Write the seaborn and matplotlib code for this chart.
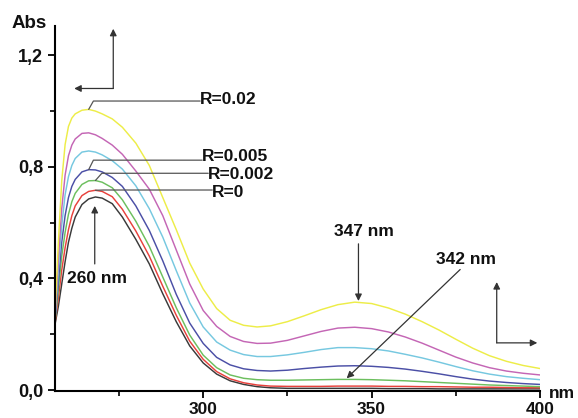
import numpy as np
import pandas as pd
import matplotlib
matplotlib.use("Agg")
import matplotlib.pyplot as plt
import seaborn as sns
from matplotlib.ticker import FixedLocator, FuncFormatter

# Wavelength grid (nm)
wavelength = [256, 257, 258, 259, 260, 261, 262, 264, 266, 268, 270, 273, 276, 280, 284,
              288, 292, 296, 300, 304, 308, 312, 316, 320, 325, 330, 335, 340, 345,
              350, 355, 360, 365, 370, 375, 380, 385, 390, 395, 400]

# Absorbance of each spectrum
abs_black = [0.235, 0.30, 0.38, 0.46, 0.53, 0.58, 0.62, 0.665, 0.685, 0.692, 0.688, 0.668, 0.62,
             0.54, 0.452, 0.345, 0.245, 0.158, 0.097, 0.057, 0.033, 0.02, 0.012, 0.008,
             0.006, 0.006, 0.006, 0.006, 0.006, 0.006, 0.005, 0.005, 0.005, 0.004, 0.004,
             0.004, 0.004, 0.004, 0.004, 0.004]
abs_r0 = [0.24, 0.33, 0.43, 0.51, 0.575, 0.625, 0.66, 0.697, 0.712, 0.716, 0.712, 0.693, 0.648,
          0.57, 0.48, 0.372, 0.268, 0.175, 0.11, 0.066, 0.04, 0.026, 0.018, 0.014,
          0.013, 0.013, 0.013, 0.014, 0.014, 0.014, 0.013, 0.013, 0.012, 0.012, 0.011,
          0.01, 0.01, 0.009, 0.008, 0.008]
abs_r0002 = [0.245, 0.36, 0.48, 0.565, 0.63, 0.675, 0.705, 0.737, 0.75, 0.751, 0.745, 0.725, 0.682,
             0.605, 0.515, 0.405, 0.295, 0.197, 0.125, 0.08, 0.054, 0.042, 0.037, 0.035,
             0.035, 0.036, 0.037, 0.038, 0.038, 0.037, 0.035, 0.033, 0.03, 0.027, 0.024,
             0.021, 0.018, 0.016, 0.014, 0.012]
abs_r0005 = [0.25, 0.39, 0.53, 0.625, 0.69, 0.73, 0.755, 0.782, 0.79, 0.789, 0.782, 0.762, 0.73,
             0.66, 0.572, 0.463, 0.343, 0.24, 0.167, 0.117, 0.09, 0.076, 0.07, 0.068,
             0.071, 0.077, 0.082, 0.086, 0.087, 0.085, 0.081, 0.075, 0.067, 0.058, 0.048,
             0.039, 0.032, 0.027, 0.023, 0.02]
abs_cyan = [0.255, 0.43, 0.59, 0.70, 0.765, 0.805, 0.83, 0.853, 0.857, 0.853, 0.843, 0.822, 0.792,
            0.732, 0.65, 0.548, 0.428, 0.312, 0.226, 0.172, 0.143, 0.127, 0.12, 0.12,
            0.126, 0.135, 0.145, 0.152, 0.152, 0.148, 0.14, 0.128, 0.115, 0.1, 0.084,
            0.069, 0.057, 0.048, 0.042, 0.037]
abs_magenta = [0.26, 0.47, 0.65, 0.77, 0.84, 0.878, 0.90, 0.92, 0.922, 0.915, 0.902, 0.878, 0.845,
               0.785, 0.72, 0.625, 0.502, 0.38, 0.285, 0.228, 0.192, 0.174, 0.167, 0.168,
               0.178, 0.194, 0.21, 0.222, 0.225, 0.22, 0.208, 0.19, 0.168, 0.143, 0.118,
               0.097, 0.08, 0.068, 0.06, 0.054]
abs_r002 = [0.27, 0.53, 0.75, 0.88, 0.945, 0.975, 0.99, 1.003, 1.006, 1.0, 0.99, 0.972, 0.942,
            0.885, 0.805, 0.69, 0.575, 0.455, 0.362, 0.292, 0.25, 0.232, 0.226, 0.23,
            0.245, 0.266, 0.288, 0.306, 0.315, 0.31, 0.294, 0.272, 0.245, 0.215, 0.182,
            0.15, 0.123, 0.103, 0.088, 0.077]

series_names = ["black", "R=0", "R=0.002", "R=0.005", "cyan", "magenta", "R=0.02"]
series_values = [abs_black, abs_r0, abs_r0002, abs_r0005, abs_cyan, abs_magenta, abs_r002]
series_colors = ["#3a3a3a", "#e8413c", "#6cbf5e", "#4b4fa6", "#76c8e0", "#c466b5", "#eded48"]

df = pd.concat(
    [pd.DataFrame({"nm": wavelength, "A": vals, "series": name})
     for name, vals in zip(series_names, series_values)],
    ignore_index=True,
)

sns.set_style("ticks")
plt.rcParams["font.family"] = ["Liberation Sans", "DejaVu Sans"]
plt.rcParams["font.weight"] = "bold"

fig = plt.figure(figsize=(5.78, 4.18), dpi=100)
ax = fig.add_axes([55 / 578, 26.6 / 418, 485 / 578, 365.4 / 418])

sns.lineplot(data=df, x="nm", y="A", hue="series", hue_order=series_names,
             palette=dict(zip(series_names, series_colors)), estimator=None,
             sort=False, legend=False, linewidth=1.05, ax=ax)

ax.set_xlim(256, 400)
ax.set_ylim(-0.005, 1.305)
ax.set_xlabel("")
ax.set_ylabel("")

for side in ("top", "right"):
    ax.spines[side].set_visible(False)
for side in ("left", "bottom"):
    ax.spines[side].set_linewidth(1.5)
    ax.spines[side].set_color("black")

ax.xaxis.set_major_locator(FixedLocator([300, 350, 400]))
ax.xaxis.set_minor_locator(FixedLocator([275, 325, 375]))
ax.yaxis.set_major_locator(FixedLocator([0.0, 0.4, 0.8, 1.2]))
ax.yaxis.set_minor_locator(FixedLocator([0.2, 0.6, 1.0]))
ax.yaxis.set_major_formatter(FuncFormatter(lambda v, p: f"{v:.1f}".replace(".", ",")))
ax.xaxis.set_major_formatter(FuncFormatter(lambda v, p: f"{v:.0f}"))

ax.tick_params(which="major", direction="out", length=5, width=1.3, color="black",
               labelsize=13, labelcolor="#111111")
ax.tick_params(which="minor", direction="out", length=3.5, width=1.2, color="black")
ax.tick_params(axis="x", which="major", pad=2.5, labelsize=12.5)
ax.tick_params(axis="y", which="major", pad=3.5)
for lab in ax.get_xticklabels() + ax.get_yticklabels():
    lab.set_fontweight("bold")

fig.text(29 / 578, 1 - 23 / 418, "Abs", ha="center", va="center",
         fontsize=13.5, fontweight="bold", color="#111111")
fig.text(562 / 578, 1 - 394 / 418, "nm", ha="center", va="center",
         fontsize=12.5, fontweight="bold", color="#111111")

line_kw = dict(color="#555555", lw=0.9)
arrow_kw = dict(arrowstyle="-|>", color="#333333", lw=0.9, mutation_scale=10,
                shrinkA=0, shrinkB=0)
text_kw = dict(fontsize=12.5, fontweight="bold", color="#111111")

# Leader lines from the labels to the band maxima
leaders = [
    ("R=0.02", abs_r002, 299.1, 1.036, 267.4, 1.042),
    ("R=0.005", abs_r0005, 299.7, 0.824, 267.4, 0.836),
    ("R=0.002", abs_r0002, 301.5, 0.777, 269.9, 0.774),
    ("R=0", abs_r0, 302.7, 0.717, 270.4, 0.708),
]
for label, vals, tx, hy, cx, ty in leaders:
    i = int(np.argmax(vals))
    ax.plot([tx, cx, wavelength[i]], [hy, hy, vals[i]], clip_on=False, **line_kw)
    ax.text(tx, ty, label, ha="left", va="center", **text_kw)

# Band position markers
ax.annotate("", xy=(267.8, 0.66), xytext=(267.8, 0.452), arrowprops=arrow_kw)
ax.text(268.5, 0.399, "260 nm", ha="center", va="center", **text_kw)

ax.annotate("", xy=(346.1, 0.319), xytext=(346.1, 0.524), arrowprops=arrow_kw)
ax.text(347.8, 0.569, "347 nm", ha="center", va="center", **text_kw)

ax.annotate("", xy=(342.6, 0.042), xytext=(376.3, 0.432), arrowprops=arrow_kw)
ax.text(378.0, 0.467, "342 nm", ha="center", va="center", **text_kw)

# Direction-of-change arrows
ax.annotate("", xy=(273.3, 1.295), xytext=(273.3, 1.081), arrowprops=arrow_kw,
            annotation_clip=False)
ax.annotate("", xy=(261.7, 1.081), xytext=(273.3, 1.081), arrowprops=arrow_kw)
ax.annotate("", xy=(387.15, 0.387), xytext=(387.15, 0.169), arrowprops=arrow_kw)
ax.annotate("", xy=(399.2, 0.169), xytext=(387.15, 0.169), arrowprops=arrow_kw)

fig.savefig("out.png", dpi=100)
